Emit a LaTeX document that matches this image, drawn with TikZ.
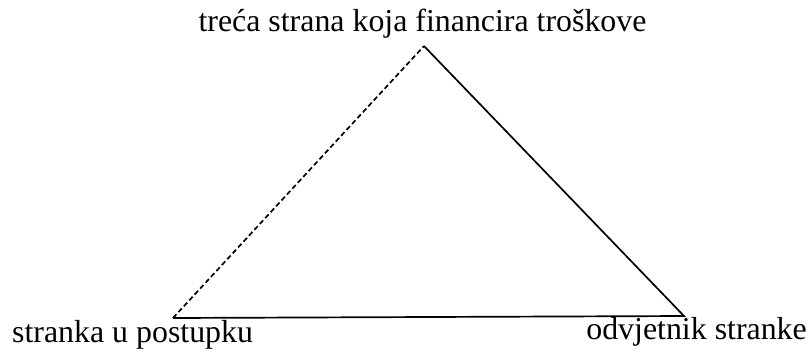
\documentclass[tikz,border=0pt]{standalone}
\usepackage{fontspec}
\setmainfont{Liberation Serif}

\tikzset{
  side/.style={draw=black,line width=1.7bp},
  fundside/.style={side,dash pattern=on 5bp off 3bp},
  party/.style={inner sep=0pt,font=\fontsize{32}{38}\selectfont}
}

\begin{document}
\begin{tikzpicture}[x=1bp,y=-1bp]
\useasboundingbox (0,0) rectangle (809,354);
% vrhovi trokuta
\coordinate (funder) at (424,46);
\coordinate (client) at (173,318);
\coordinate (lawyer) at (684,316);
% oznake
\node[party,anchor=base] (funderlbl) at (422.5,31) {treća strana koja financira troškove};
\node[party,anchor=base west] (clientlbl) at (12,342) {stranka u postupku};
\node[party,anchor=base east] (lawyerlbl) at (807,339) {odvjetnik stranke};
% stranice
\draw[fundside] (client) -- (funder);
\draw[side] (funder) -- (lawyer) -- (client);
\end{tikzpicture}
\end{document}
